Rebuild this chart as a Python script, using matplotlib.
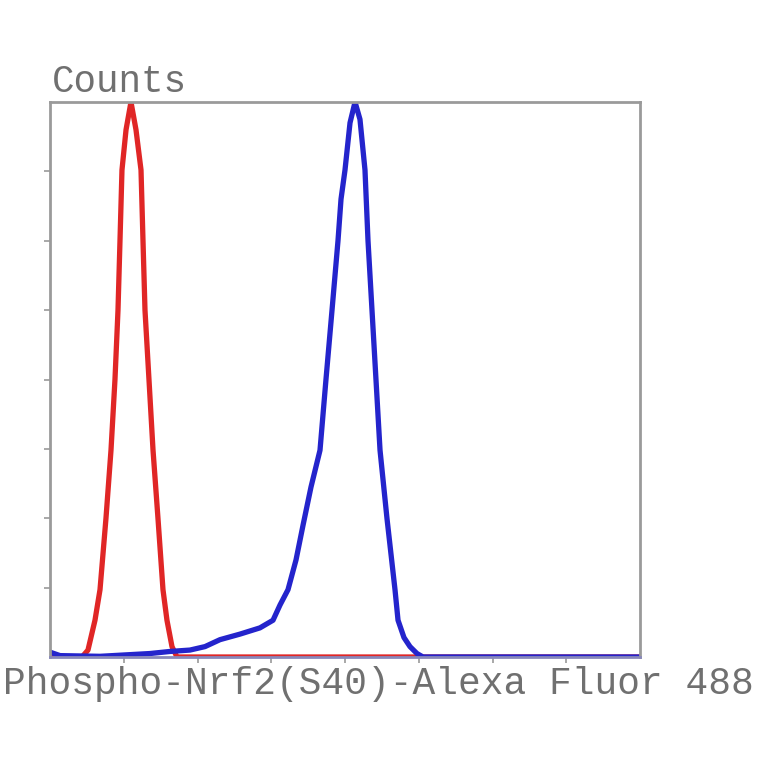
import matplotlib
matplotlib.use("Agg")
import matplotlib.pyplot as plt
import numpy as np

# fluorescence intensity (log decades) and counts
red_x = [0.000, 0.434, 0.515, 0.610, 0.678, 0.759, 0.827, 0.881, 0.922, 0.949, 0.976,
         1.031, 1.098, 1.166, 1.234, 1.261, 1.288, 1.342, 1.397, 1.464, 1.532, 1.586,
         1.654, 1.722, 8.000]
red_y = [0, 0, 10, 53, 97, 200, 298, 400, 500, 600, 702,
         760, 800, 760, 702, 600, 500, 400, 298, 200, 97, 53,
         15, 0, 0]

blue_x = [0.000, 0.136, 0.678, 1.356, 1.627, 1.898, 2.102, 2.305, 2.576, 2.847, 3.024,
          3.119, 3.227, 3.336, 3.431, 3.539, 3.661, 3.742, 3.824, 3.905, 3.946, 4.000,
          4.068, 4.136, 4.203, 4.271, 4.312, 4.366, 4.420, 4.475, 4.569, 4.678, 4.719,
          4.800, 4.881, 4.976, 5.058, 8.000]
blue_y = [7, 2, 1, 5, 8, 10, 15, 25, 33, 42, 53,
          75, 97, 140, 190, 245, 298, 400, 500, 600, 660, 702,
          770, 800, 775, 702, 600, 500, 400, 298, 200, 97, 53,
          28, 15, 5, 0, 0]

x_label = "Phospho-Nrf2(S40)-Alexa Fluor 488"
y_label = "Counts"

fig = plt.figure(figsize=(7.64, 7.64), dpi=100)
ax = fig.add_axes([50/764, 107/764, 590/764, 555/764])

ax.plot(red_x, red_y, color='#e02626', lw=3.8, solid_joinstyle='round')
ax.plot(blue_x, blue_y, color='#2424cc', lw=3.8, solid_joinstyle='round')

ax.set_xlim(0, 8)
ax.set_ylim(0, 800)
ax.set_xticks(range(1, 8))
ax.set_yticks(range(100, 800, 100))
ax.set_xticklabels([])
ax.set_yticklabels([])
ax.tick_params(direction='out', length=4, width=1.2, color='#999999')
for s in ax.spines.values():
    s.set_color('#9a9a9a')
    s.set_linewidth(2)
ax.spines['bottom'].set_color('#8888bb')

fig.text(52/764, 1 - 82/764, y_label, family='Liberation Mono', fontsize=27,
         color='#707070', va='center', ha='left')
fig.text(378/764, 1 - 684/764, x_label, family='Liberation Mono', fontsize=27.3,
         color='#707070', va='center', ha='center')

fig.savefig('out.png', dpi=100)
